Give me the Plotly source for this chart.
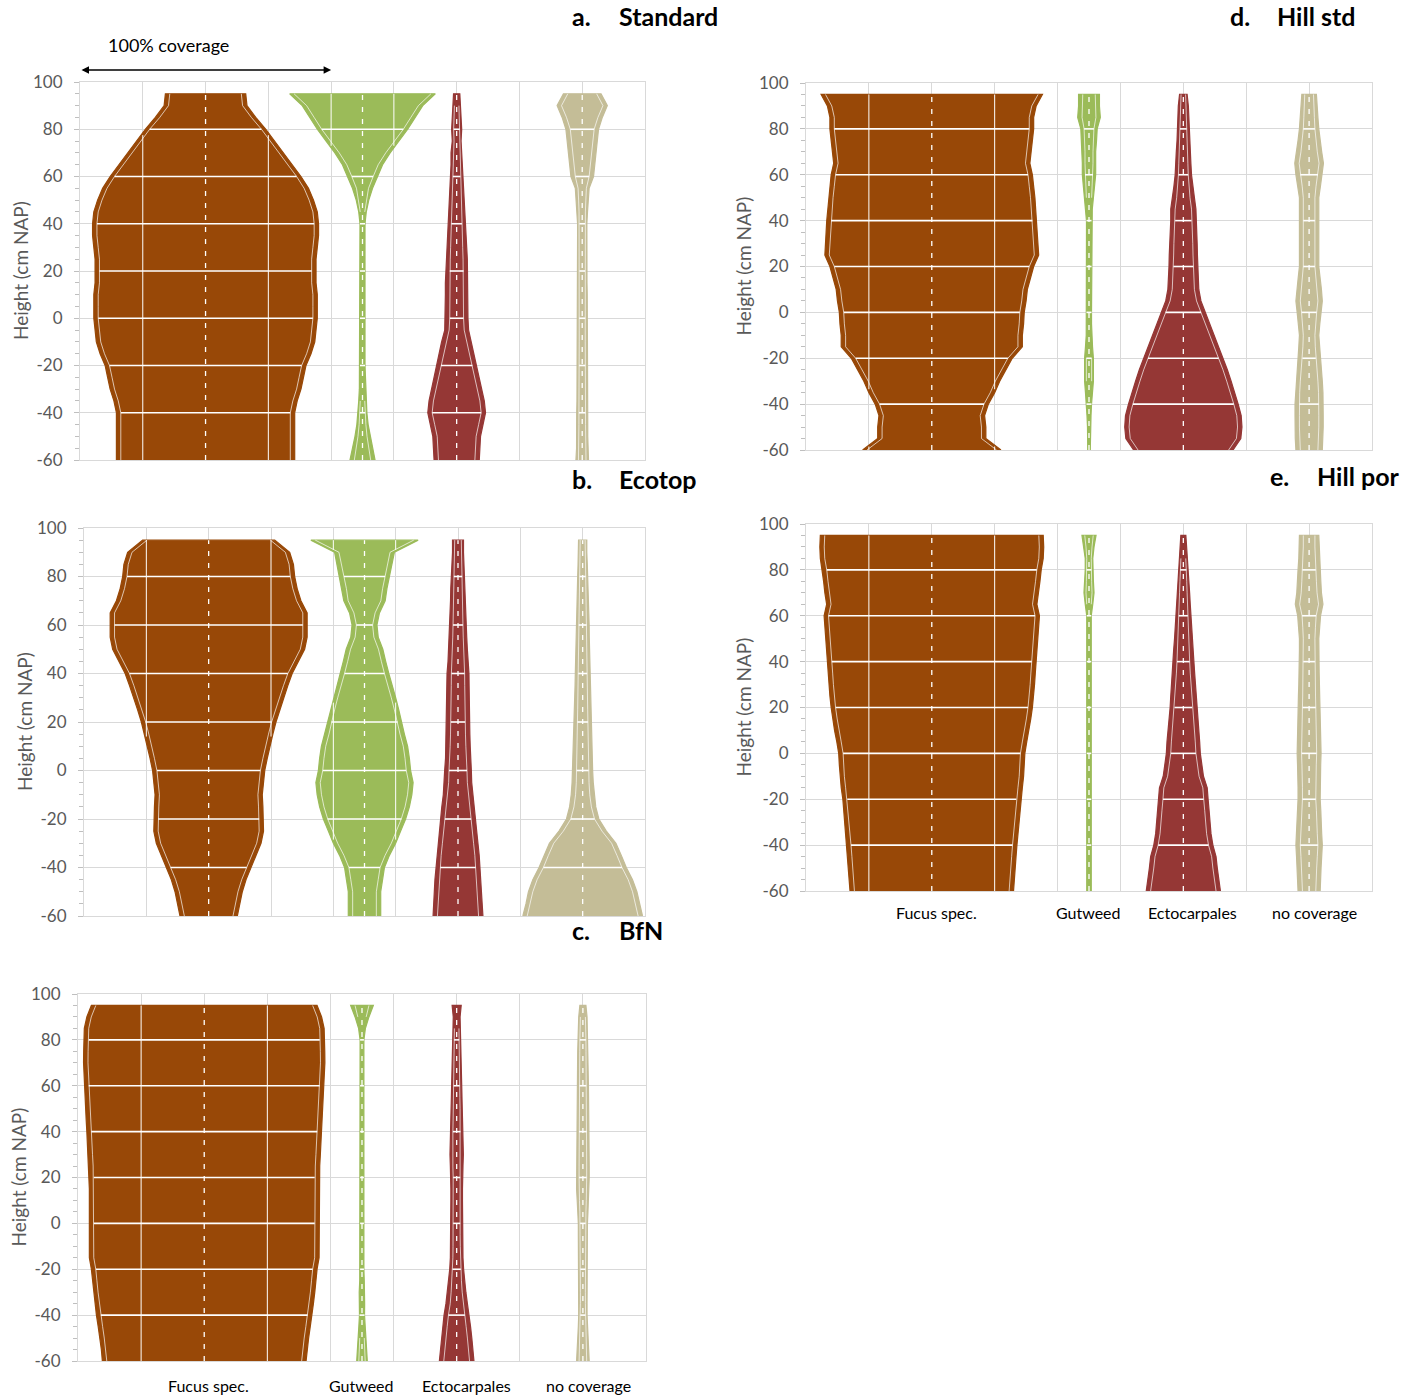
import numpy as np
import plotly.graph_objects as go

W, H = 1414, 1397

# ---------------- data ----------------
HEIGHTS = [-60, -55, -50, -45, -40, -35, -30, -25, -20, -15, -10, -5, 0, 5, 10, 15,
           20, 25, 30, 35, 40, 45, 50, 55, 60, 65, 70, 75, 80, 85, 90, 95]
SPECIES = ["Fucus spec.", "Gutweed", "Ectocarpales", "no coverage"]
Y_TICKS = [-60, -40, -20, 0, 20, 40, 60, 80, 100]
Y_TICK_TEXT = ["-60", "-40", "-20", "0", "20", "40", "60", "80", "100"]

# coverage (%) at each height
std_fucus = [71, 71, 71, 71, 71, 73, 76, 78, 80, 84, 87, 88, 89, 89, 89, 88, 88, 88, 89, 90, 90, 89, 86, 82, 76, 69, 62, 55, 48, 40, 33, 32]
std_gutweed = [10, 8, 6, 4.5, 3.5, 3, 2.5, 2, 2, 2, 2, 2, 2, 2, 2, 2, 2, 2, 2, 2, 2, 3, 5, 8, 12, 16, 22, 29, 36, 42, 48, 58]
std_ecto = [18, 18.5, 19, 21, 23, 22, 20, 18, 16, 14, 12, 9.5, 9, 9, 9, 9, 9, 8.5, 8, 7.5, 7, 6.5, 6, 5.5, 5, 4.5, 4.5, 3.5, 4, 3.5, 3, 2.5]
std_nocov = [5, 4.5, 4.4, 4.4, 4.4, 4.2, 4, 4, 4, 4, 4, 4, 4, 4, 4, 3.8, 3.7, 3.7, 3.7, 3.7, 3.7, 4.2, 4.8, 5.5, 9, 10, 10.5, 12, 13, 16, 20, 15]

eco_fucus = [23, 25, 27, 30, 34, 38, 42, 44, 44, 43.5, 43, 44, 45, 47, 49, 51.5, 54, 57, 60, 63.5, 67, 72, 77, 79, 79, 79, 74, 71, 69, 68, 65, 53]
eco_gutweed = [13, 13, 13, 14.5, 16, 20, 25, 29, 33, 36, 38, 39, 37, 36, 34.6, 32, 30, 27.5, 25, 22, 19.5, 17, 14.7, 11, 10, 12, 16.6, 18, 20, 22, 24, 43]
eco_ecto = [20, 19.5, 19, 18.5, 17.7, 17, 16, 15, 14, 13, 11.8, 11, 10.7, 10, 9.8, 9.5, 9.2, 9, 9, 8.9, 8.8, 8, 7.5, 7, 6.6, 6.3, 6, 5.8, 5.5, 5, 4.4, 4.4]
eco_nocov = [48, 45.5, 43.5, 40, 35, 31, 26.7, 19, 13, 10.5, 9.2, 8.5, 8, 7.7, 7.5, 7.2, 7, 6.7, 6.4, 6.1, 5.9, 5.7, 5.5, 5.3, 5.2, 5, 4.6, 4.3, 4, 3.7, 3.3, 3.3]

bfn_fucus = [80.7, 81.5, 82.7, 84, 85.4, 86.5, 87.6, 88.5, 89.4, 91, 91, 91, 91, 91, 91, 91, 91, 91.5, 92, 92.5, 93, 93.5, 94, 94.5, 95, 95.3, 95.6, 95.5, 95, 95, 93, 89.4]
bfn_gutweed = [4.2, 3.5, 3, 2.5, 2, 2.1, 2.2, 1.8, 1.5, 1.5, 1.5, 1.5, 1.5, 1.5, 1.5, 1.5, 1.5, 1.5, 1.5, 1.5, 1.5, 1.5, 1.5, 1.5, 1.5, 1.5, 1.5, 1.5, 1.5, 2.7, 5.5, 9]
bfn_ecto = [13.7, 13, 12, 11, 10, 8.5, 7.3, 6.3, 5.5, 5, 4.8, 4.6, 4.6, 4.6, 4.6, 4.6, 4.6, 5, 5.3, 5.2, 5, 4.7, 4.5, 4.2, 4, 3.8, 3.6, 3.5, 3.3, 3, 2.7, 3.6]
bfn_nocov = [5, 4.5, 4, 3.6, 3.3, 3.3, 3.3, 3.3, 3.3, 3.4, 3.5, 3.6, 3.6, 4, 4.5, 5, 5, 5, 5, 5, 5, 4.8, 4.6, 4.5, 4.4, 4.3, 4.2, 4.1, 4, 3.7, 3.3, 2.4]

hstd_fucus = [55, 43, 43, 42, 45, 50, 54, 59, 64, 72, 72, 73, 73.5, 75, 76, 78.5, 81, 85, 84.5, 84, 83.5, 82.7, 82, 81, 80, 78, 79, 80, 81, 81, 83, 88]
hstd_gutweed = [1, 1.1, 1.2, 1.6, 2, 2.8, 3.5, 3.5, 3.5, 2.8, 2.2, 2, 2, 2, 2.3, 2.2, 2, 2, 2, 2, 2, 2.6, 3.5, 4.4, 5.3, 5.3, 5.3, 6, 6.5, 9, 8.3, 8.3]
hstd_ecto = [39.5, 45.7, 46.6, 46, 43.6, 41, 38, 35, 31.6, 28, 24.6, 21, 17.6, 14, 12.3, 11.8, 11.4, 11.2, 11, 10.5, 10, 10, 8.8, 7.5, 6.5, 6, 5.6, 5, 4.4, 4.2, 4, 3]
hstd_nocov = [10.5, 11, 11.2, 11.2, 11.2, 11, 10.5, 9.7, 8.8, 8.2, 7.7, 8.5, 9.5, 10.5, 9.8, 8.7, 7.7, 7.7, 7.7, 7.7, 7.7, 7.7, 7.7, 9, 10.5, 11.4, 10, 8.8, 7.7, 7, 6.3, 5.8]

hpor_fucus = [65, 65.5, 66, 67, 67.7, 68.5, 69.4, 70, 70.7, 72, 73, 73.5, 74, 75.5, 77.3, 78.7, 80, 81, 81.7, 82.3, 83, 83.5, 84, 85, 85.6, 83.6, 85, 86, 87, 88.6, 89, 88.6]
hpor_gutweed = [1.8, 1.8, 1.8, 1.8, 1.8, 1.8, 1.8, 1.8, 1.8, 1.8, 1.8, 1.8, 1.8, 1.8, 1.8, 1.8, 1.8, 1.8, 1.8, 1.8, 1.8, 1.8, 1.8, 1.8, 1.8, 3, 4, 3.5, 3, 3, 4, 5.6]
hpor_ecto = [29.5, 28, 27, 26, 23.5, 22, 21, 20.5, 19.7, 19, 16, 14.5, 13.5, 13, 12.3, 11.5, 10.5, 10, 9.5, 9, 8.4, 7.7, 7, 6.5, 6, 5.5, 5, 4.5, 4, 3.2, 2.5, 2]
hpor_nocov = [8.8, 9, 9.5, 10, 10.5, 10, 9.8, 9.3, 8.8, 8.8, 8.8, 9.2, 9.5, 9.2, 9, 8.8, 8.8, 8.5, 8.2, 8, 7.7, 7.7, 7.7, 8.4, 9.1, 11, 9.8, 9.3, 8.8, 8.2, 7.7, 7.7]

# ---------------- style / layout ----------------
COLORS = ["#984807", "#9BBB59", "#953735", "#C4BD97"]
CENTERS = [2, 4.5, 6, 8]          # category positions on a 0-9 axis
LABEL_X = [2.07, 4.49, 6.15, 8.09]
FULL_WIDTH = 4                    # axis units equal to 100 % coverage
FONT = "Lato"
GRID = "#D9D9D9"
TXT = "#595959"

PANELS = [
    dict(letter="a.", name="Standard", covs=[std_fucus, std_gutweed, std_ecto, std_nocov],
         box=(80, 645, 82, 460), title=(570, 617, 16), ytitle_x=20, labels_y=None),
    dict(letter="b.", name="Ecotop", covs=[eco_fucus, eco_gutweed, eco_ecto, eco_nocov],
         box=(84, 645, 528, 916), title=(570, 617, 479), ytitle_x=24, labels_y=None),
    dict(letter="c.", name="BfN", covs=[bfn_fucus, bfn_gutweed, bfn_ecto, bfn_nocov],
         box=(78, 646, 994, 1361), title=(570, 617, 930), ytitle_x=18, labels_y=1385),
    dict(letter="d.", name="Hill std", covs=[hstd_fucus, hstd_gutweed, hstd_ecto, hstd_nocov],
         box=(806, 1372, 83, 450), title=(1228, 1275, 16), ytitle_x=743, labels_y=None),
    dict(letter="e.", name="Hill por", covs=[hpor_fucus, hpor_gutweed, hpor_ecto, hpor_nocov],
         box=(806, 1372, 524, 891), title=(1268, 1315, 476), ytitle_x=743, labels_y=912),
]

fig = go.Figure()
annotations = []
layout_axes = {}


def nan_to_none(arr):
    return [None if np.isnan(v) else float(v) for v in arr]


def add_violin(cov, c, color, xa, ya):
    h = np.array(HEIGHTS, float)
    hw = np.array(cov, float) / 100.0 * FULL_WIDTH / 2.0
    xs = np.concatenate([c + hw, (c - hw)[::-1]])
    ys = np.concatenate([h, h[::-1]])
    fig.add_trace(go.Scatter(x=xs.tolist(), y=ys.tolist(), mode="lines", fill="toself",
                             fillcolor=color, line=dict(color=color, width=1.2),
                             xaxis=xa, yaxis=ya, hoverinfo="skip", showlegend=False))
    # inner white outline
    inset = np.minimum(0.07, 0.4 * hw)
    hin = hw - inset
    keep = hw >= 0.06
    xr = np.where(keep, c + hin, np.nan)
    xl = np.where(keep, c - hin, np.nan)
    ox = nan_to_none(xr) + [None] + nan_to_none(xl)
    oy = h.tolist() + [None] + h.tolist()
    fig.add_trace(go.Scatter(x=ox, y=oy, mode="lines", connectgaps=False,
                             line=dict(color="rgba(255,255,255,0.85)", width=0.8),
                             xaxis=xa, yaxis=ya, hoverinfo="skip", showlegend=False))
    # white grid inside the shape
    gx, gy = [], []
    for yv in [-40, -20, 0, 20, 40, 60, 80]:
        j = HEIGHTS.index(yv)
        w = hin[j] if hw[j] >= 0.06 else hw[j]
        gx += [c - w, c + w, None]
        gy += [yv, yv, None]
    fig.add_trace(go.Scatter(x=gx, y=gy, mode="lines", line=dict(color="white", width=1.6),
                             xaxis=xa, yaxis=ya, hoverinfo="skip", showlegend=False))
    yf = np.arange(-60, 95.001, 0.5)
    hf = np.interp(yf, h, hw)
    vx, vy = [], []
    for k in range(0, 10):
        if abs(k - c) < 1e-9:
            continue
        mask = (hf - abs(k - c)) > 0.02
        if not mask.any():
            continue
        vx += [k if m else None for m in mask] + [None]
        vy += yf.tolist() + [None]
    if vx:
        fig.add_trace(go.Scatter(x=vx, y=vy, mode="lines", connectgaps=False,
                                 line=dict(color="white", width=1),
                                 xaxis=xa, yaxis=ya, hoverinfo="skip", showlegend=False))
    fig.add_trace(go.Scatter(x=[c, c], y=[HEIGHTS[0], HEIGHTS[-1]], mode="lines",
                             line=dict(color="white", width=1.3, dash="5px,7px"),
                             xaxis=xa, yaxis=ya, hoverinfo="skip", showlegend=False))


for i, p in enumerate(PANELS, start=1):
    xa, ya = f"x{i}", f"y{i}"
    xl, xr, yt, yb = p["box"]
    layout_axes[f"xaxis{i}"] = dict(
        domain=[xl / W, xr / W], range=[0, 9], dtick=1, tick0=0, anchor=ya, automargin=False,
        showgrid=True, gridcolor=GRID, gridwidth=1, showticklabels=False, ticks="",
        zeroline=False, showline=True, linecolor=GRID, mirror=True, fixedrange=True)
    layout_axes[f"yaxis{i}"] = dict(
        domain=[1 - yb / H, 1 - yt / H], range=[-60, 100], tickvals=Y_TICKS, ticktext=Y_TICK_TEXT,
        anchor=xa, automargin=False,
        showgrid=True, gridcolor=GRID, gridwidth=1, zeroline=False,
        showline=True, linecolor=GRID, mirror=True,
        ticks="outside", ticklen=5, tickcolor="#BFBFBF", ticklabelstandoff=8,
        minor=dict(dtick=5, tick0=0, ticks="outside", ticklen=4, tickcolor="#BFBFBF", showgrid=False),
        tickfont=dict(family=FONT, size=17, color=TXT), fixedrange=True)
    for cov, c, col in zip(p["covs"], CENTERS, COLORS):
        add_violin(cov, c, col, xa, ya)
    # titles
    tl, tn, ty = p["title"]
    annotations.append(dict(text=p["letter"], x=tl / W, y=1 - ty / H, xref="paper", yref="paper",
                            xanchor="left", yanchor="middle", showarrow=False,
                            font=dict(family=FONT, size=25, color="black", weight="bold")))
    annotations.append(dict(text=p["name"], x=tn / W, y=1 - ty / H, xref="paper", yref="paper",
                            xanchor="left", yanchor="middle", showarrow=False,
                            font=dict(family=FONT, size=25, color="black", weight="bold")))
    annotations.append(dict(text="Height (cm NAP)", x=p["ytitle_x"] / W, y=1 - (yt + yb) / 2 / H,
                            xref="paper", yref="paper", xanchor="center", yanchor="middle",
                            textangle=-90, showarrow=False,
                            font=dict(family=FONT, size=19, color=TXT)))
    if p["labels_y"] is not None:
        for lab, lx in zip(SPECIES, LABEL_X):
            annotations.append(dict(text=lab, x=lx, y=1 - p["labels_y"] / H, xref=xa, yref="paper",
                                    xanchor="center", yanchor="middle", showarrow=False,
                                    font=dict(family=FONT, size=16, color="black")))

# 100 % coverage arrow (spans FULL_WIDTH units in panel a)
annotations.append(dict(x=FULL_WIDTH, y=1 - 70 / H, xref="x1", yref="paper",
                        ax=0, ay=0, axref="x1", ayref="pixel", text="", showarrow=True,
                        arrowside="end+start", arrowhead=2, arrowsize=1, arrowwidth=1.5,
                        arrowcolor="black"))
annotations.append(dict(text="100% coverage", x=168 / W, y=1 - 45 / H, xref="paper", yref="paper",
                        xanchor="center", yanchor="middle", showarrow=False,
                        font=dict(family=FONT, size=18, color="black")))

fig.update_layout(template="none", width=W, height=H, margin=dict(l=0, r=0, t=0, b=0, pad=0),
                  paper_bgcolor="white", plot_bgcolor="white", showlegend=False,
                  font=dict(family=FONT),
                  annotations=annotations, **layout_axes)

fig.write_html("out.html", config={"displayModeBar": False, "staticPlot": True},
               post_script="document.body.style.margin='0';document.body.style.padding='0';"
                           "document.documentElement.style.overflow='hidden';")
